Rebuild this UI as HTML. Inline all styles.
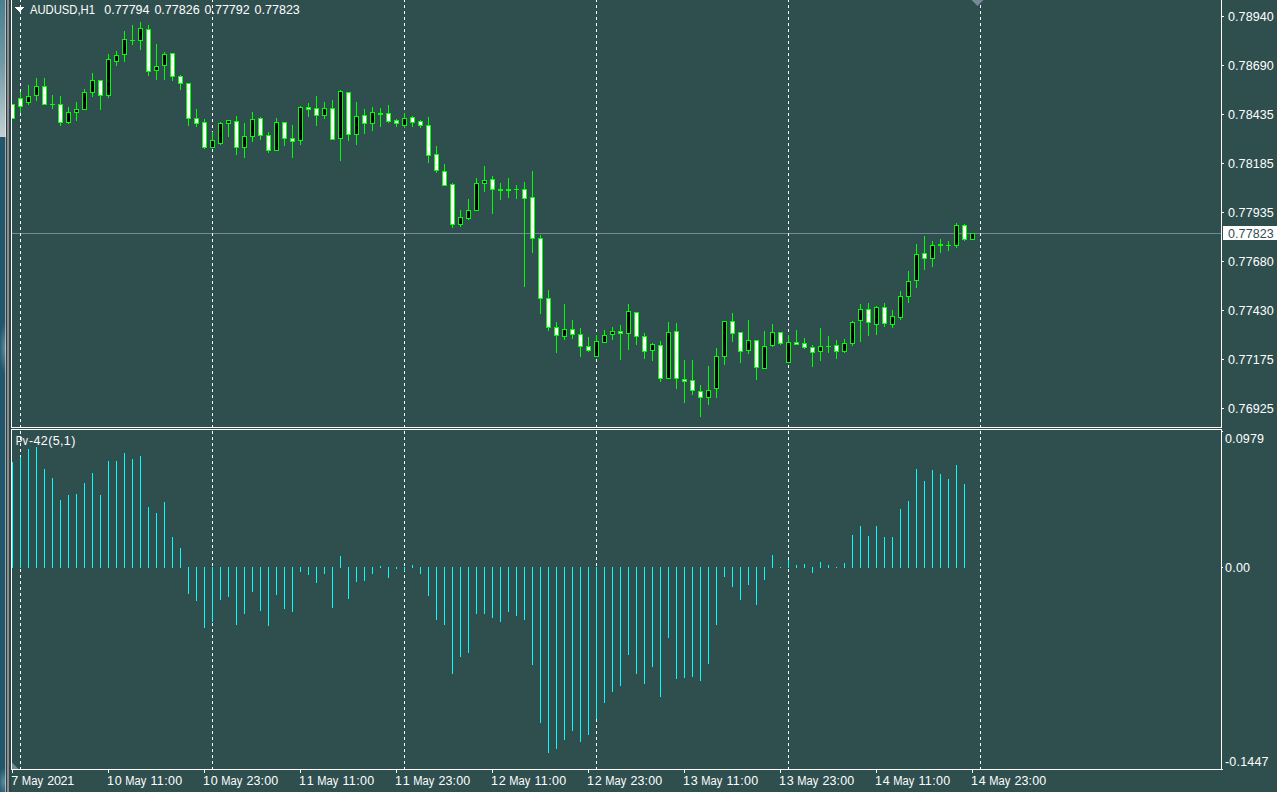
<!DOCTYPE html><html><head><meta charset="utf-8"><title>AUDUSD,H1</title>
<style>html,body{margin:0;padding:0;background:#2f4f4f;overflow:hidden}svg{display:block}text{font-family:"Liberation Sans",sans-serif;font-size:12.5px;fill:#fff}</style></head><body>
<svg width="1277" height="792" viewBox="0 0 1277 792">
<defs><linearGradient id="lg" x1="0" y1="0" x2="0" y2="1"><stop offset="0" stop-color="#4a7f90"/><stop offset="0.45" stop-color="#6f98a4"/><stop offset="1" stop-color="#c3d0d3"/></linearGradient><radialGradient id="glow"><stop offset="0" stop-color="#7fb0c0" stop-opacity="0.6"/><stop offset="1" stop-color="#7fb0c0" stop-opacity="0"/></radialGradient>
<pattern id="dash" x="0" y="-1" width="1" height="6" patternUnits="userSpaceOnUse"><rect x="0" y="0" width="1" height="3" fill="#fff"/></pattern></defs>
<rect width="1277" height="792" fill="#2f4f4f"/>
<g shape-rendering="crispEdges">
<rect x="12" y="233" width="1209" height="1" fill="#778899"/>
<rect x="20" y="0" width="1" height="427" fill="url(#dash)"/>
<rect x="20" y="430" width="1" height="339" fill="url(#dash)"/>
<rect x="212" y="0" width="1" height="427" fill="url(#dash)"/>
<rect x="212" y="430" width="1" height="339" fill="url(#dash)"/>
<rect x="404" y="0" width="1" height="427" fill="url(#dash)"/>
<rect x="404" y="430" width="1" height="339" fill="url(#dash)"/>
<rect x="596" y="0" width="1" height="427" fill="url(#dash)"/>
<rect x="596" y="430" width="1" height="339" fill="url(#dash)"/>
<rect x="788" y="0" width="1" height="427" fill="url(#dash)"/>
<rect x="788" y="430" width="1" height="339" fill="url(#dash)"/>
<rect x="980" y="0" width="1" height="427" fill="url(#dash)"/>
<rect x="980" y="430" width="1" height="339" fill="url(#dash)"/>
<rect x="12" y="104" width="1" height="15" fill="#00ff00"/>
<rect x="10" y="104" width="5" height="15" fill="#00ff00"/>
<rect x="11" y="105" width="3" height="13" fill="#fff"/>
<rect x="20" y="92" width="1" height="21" fill="#00ff00"/>
<rect x="18" y="98" width="5" height="9" fill="#00ff00"/>
<rect x="19" y="99" width="3" height="7" fill="#fff"/>
<rect x="28" y="85" width="1" height="20" fill="#00ff00"/>
<rect x="26" y="96" width="5" height="7" fill="#00ff00"/>
<rect x="27" y="97" width="3" height="5" fill="#000"/>
<rect x="36" y="78" width="1" height="23" fill="#00ff00"/>
<rect x="34" y="86" width="5" height="10" fill="#00ff00"/>
<rect x="35" y="87" width="3" height="8" fill="#000"/>
<rect x="44" y="78" width="1" height="27" fill="#00ff00"/>
<rect x="42" y="86" width="5" height="19" fill="#00ff00"/>
<rect x="43" y="87" width="3" height="17" fill="#fff"/>
<rect x="52" y="95" width="1" height="14" fill="#00ff00"/>
<rect x="50" y="104" width="5" height="1" fill="#00ff00"/>
<rect x="60" y="96" width="1" height="30" fill="#00ff00"/>
<rect x="58" y="104" width="5" height="19" fill="#00ff00"/>
<rect x="59" y="105" width="3" height="17" fill="#fff"/>
<rect x="68" y="107" width="1" height="17" fill="#00ff00"/>
<rect x="66" y="112" width="5" height="11" fill="#00ff00"/>
<rect x="67" y="113" width="3" height="9" fill="#000"/>
<rect x="76" y="102" width="1" height="19" fill="#00ff00"/>
<rect x="74" y="109" width="5" height="4" fill="#00ff00"/>
<rect x="75" y="110" width="3" height="2" fill="#000"/>
<rect x="84" y="89" width="1" height="21" fill="#00ff00"/>
<rect x="82" y="92" width="5" height="18" fill="#00ff00"/>
<rect x="83" y="93" width="3" height="16" fill="#000"/>
<rect x="92" y="73" width="1" height="24" fill="#00ff00"/>
<rect x="90" y="80" width="5" height="13" fill="#00ff00"/>
<rect x="91" y="81" width="3" height="11" fill="#000"/>
<rect x="100" y="80" width="1" height="30" fill="#00ff00"/>
<rect x="98" y="80" width="5" height="16" fill="#00ff00"/>
<rect x="99" y="81" width="3" height="14" fill="#fff"/>
<rect x="108" y="54" width="1" height="44" fill="#00ff00"/>
<rect x="106" y="59" width="5" height="37" fill="#00ff00"/>
<rect x="107" y="60" width="3" height="35" fill="#000"/>
<rect x="116" y="51" width="1" height="15" fill="#00ff00"/>
<rect x="114" y="55" width="5" height="7" fill="#00ff00"/>
<rect x="115" y="56" width="3" height="5" fill="#000"/>
<rect x="124" y="31" width="1" height="31" fill="#00ff00"/>
<rect x="122" y="39" width="5" height="16" fill="#00ff00"/>
<rect x="123" y="40" width="3" height="14" fill="#000"/>
<rect x="132" y="25" width="1" height="20" fill="#00ff00"/>
<rect x="130" y="40" width="5" height="1" fill="#00ff00"/>
<rect x="140" y="22" width="1" height="28" fill="#00ff00"/>
<rect x="138" y="28" width="5" height="13" fill="#00ff00"/>
<rect x="139" y="29" width="3" height="11" fill="#000"/>
<rect x="148" y="25" width="1" height="51" fill="#00ff00"/>
<rect x="146" y="29" width="5" height="43" fill="#00ff00"/>
<rect x="147" y="30" width="3" height="41" fill="#fff"/>
<rect x="156" y="44" width="1" height="36" fill="#00ff00"/>
<rect x="154" y="66" width="5" height="5" fill="#00ff00"/>
<rect x="155" y="67" width="3" height="3" fill="#000"/>
<rect x="164" y="52" width="1" height="28" fill="#00ff00"/>
<rect x="162" y="54" width="5" height="12" fill="#00ff00"/>
<rect x="163" y="55" width="3" height="10" fill="#000"/>
<rect x="172" y="53" width="1" height="28" fill="#00ff00"/>
<rect x="170" y="53" width="5" height="24" fill="#00ff00"/>
<rect x="171" y="54" width="3" height="22" fill="#fff"/>
<rect x="180" y="75" width="1" height="15" fill="#00ff00"/>
<rect x="178" y="76" width="5" height="8" fill="#00ff00"/>
<rect x="179" y="77" width="3" height="6" fill="#fff"/>
<rect x="188" y="83" width="1" height="43" fill="#00ff00"/>
<rect x="186" y="83" width="5" height="36" fill="#00ff00"/>
<rect x="187" y="84" width="3" height="34" fill="#fff"/>
<rect x="196" y="109" width="1" height="18" fill="#00ff00"/>
<rect x="194" y="118" width="5" height="6" fill="#00ff00"/>
<rect x="195" y="119" width="3" height="4" fill="#fff"/>
<rect x="204" y="119" width="1" height="30" fill="#00ff00"/>
<rect x="202" y="122" width="5" height="26" fill="#00ff00"/>
<rect x="203" y="123" width="3" height="24" fill="#fff"/>
<rect x="212" y="132" width="1" height="16" fill="#00ff00"/>
<rect x="210" y="140" width="5" height="8" fill="#00ff00"/>
<rect x="211" y="141" width="3" height="6" fill="#000"/>
<rect x="220" y="122" width="1" height="23" fill="#00ff00"/>
<rect x="218" y="123" width="5" height="21" fill="#00ff00"/>
<rect x="219" y="124" width="3" height="19" fill="#000"/>
<rect x="228" y="120" width="1" height="17" fill="#00ff00"/>
<rect x="226" y="120" width="5" height="4" fill="#00ff00"/>
<rect x="227" y="121" width="3" height="2" fill="#000"/>
<rect x="236" y="116" width="1" height="39" fill="#00ff00"/>
<rect x="234" y="121" width="5" height="27" fill="#00ff00"/>
<rect x="235" y="122" width="3" height="25" fill="#fff"/>
<rect x="244" y="123" width="1" height="35" fill="#00ff00"/>
<rect x="242" y="136" width="5" height="12" fill="#00ff00"/>
<rect x="243" y="137" width="3" height="10" fill="#000"/>
<rect x="252" y="112" width="1" height="30" fill="#00ff00"/>
<rect x="250" y="119" width="5" height="18" fill="#00ff00"/>
<rect x="251" y="120" width="3" height="16" fill="#000"/>
<rect x="260" y="117" width="1" height="23" fill="#00ff00"/>
<rect x="258" y="118" width="5" height="18" fill="#00ff00"/>
<rect x="259" y="119" width="3" height="16" fill="#fff"/>
<rect x="268" y="132" width="1" height="21" fill="#00ff00"/>
<rect x="266" y="135" width="5" height="16" fill="#00ff00"/>
<rect x="267" y="136" width="3" height="14" fill="#fff"/>
<rect x="276" y="118" width="1" height="33" fill="#00ff00"/>
<rect x="274" y="122" width="5" height="29" fill="#00ff00"/>
<rect x="275" y="123" width="3" height="27" fill="#000"/>
<rect x="284" y="122" width="1" height="24" fill="#00ff00"/>
<rect x="282" y="122" width="5" height="17" fill="#00ff00"/>
<rect x="283" y="123" width="3" height="15" fill="#fff"/>
<rect x="292" y="125" width="1" height="33" fill="#00ff00"/>
<rect x="290" y="138" width="5" height="4" fill="#00ff00"/>
<rect x="291" y="139" width="3" height="2" fill="#fff"/>
<rect x="300" y="106" width="1" height="39" fill="#00ff00"/>
<rect x="298" y="107" width="5" height="34" fill="#00ff00"/>
<rect x="299" y="108" width="3" height="32" fill="#000"/>
<rect x="308" y="103" width="1" height="14" fill="#00ff00"/>
<rect x="306" y="107" width="5" height="3" fill="#00ff00"/>
<rect x="307" y="108" width="3" height="1" fill="#fff"/>
<rect x="316" y="96" width="1" height="30" fill="#00ff00"/>
<rect x="314" y="108" width="5" height="8" fill="#00ff00"/>
<rect x="315" y="109" width="3" height="6" fill="#fff"/>
<rect x="324" y="102" width="1" height="17" fill="#00ff00"/>
<rect x="322" y="108" width="5" height="8" fill="#00ff00"/>
<rect x="323" y="109" width="3" height="6" fill="#000"/>
<rect x="332" y="100" width="1" height="40" fill="#00ff00"/>
<rect x="330" y="108" width="5" height="32" fill="#00ff00"/>
<rect x="331" y="109" width="3" height="30" fill="#fff"/>
<rect x="340" y="90" width="1" height="71" fill="#00ff00"/>
<rect x="338" y="91" width="5" height="48" fill="#00ff00"/>
<rect x="339" y="92" width="3" height="46" fill="#000"/>
<rect x="348" y="92" width="1" height="49" fill="#00ff00"/>
<rect x="346" y="92" width="5" height="43" fill="#00ff00"/>
<rect x="347" y="93" width="3" height="41" fill="#fff"/>
<rect x="356" y="102" width="1" height="43" fill="#00ff00"/>
<rect x="354" y="116" width="5" height="19" fill="#00ff00"/>
<rect x="355" y="117" width="3" height="17" fill="#000"/>
<rect x="364" y="109" width="1" height="25" fill="#00ff00"/>
<rect x="362" y="115" width="5" height="9" fill="#00ff00"/>
<rect x="363" y="116" width="3" height="7" fill="#fff"/>
<rect x="372" y="107" width="1" height="24" fill="#00ff00"/>
<rect x="370" y="112" width="5" height="12" fill="#00ff00"/>
<rect x="371" y="113" width="3" height="10" fill="#000"/>
<rect x="380" y="108" width="1" height="19" fill="#00ff00"/>
<rect x="378" y="113" width="5" height="2" fill="#00ff00"/>
<rect x="388" y="105" width="1" height="18" fill="#00ff00"/>
<rect x="386" y="113" width="5" height="9" fill="#00ff00"/>
<rect x="387" y="114" width="3" height="7" fill="#fff"/>
<rect x="396" y="119" width="1" height="8" fill="#00ff00"/>
<rect x="394" y="120" width="5" height="4" fill="#00ff00"/>
<rect x="395" y="121" width="3" height="2" fill="#fff"/>
<rect x="404" y="113" width="1" height="15" fill="#00ff00"/>
<rect x="402" y="118" width="5" height="8" fill="#00ff00"/>
<rect x="403" y="119" width="3" height="6" fill="#000"/>
<rect x="412" y="116" width="1" height="11" fill="#00ff00"/>
<rect x="410" y="117" width="5" height="6" fill="#00ff00"/>
<rect x="411" y="118" width="3" height="4" fill="#fff"/>
<rect x="420" y="120" width="1" height="8" fill="#00ff00"/>
<rect x="418" y="121" width="5" height="5" fill="#00ff00"/>
<rect x="419" y="122" width="3" height="3" fill="#fff"/>
<rect x="428" y="117" width="1" height="46" fill="#00ff00"/>
<rect x="426" y="125" width="5" height="31" fill="#00ff00"/>
<rect x="427" y="126" width="3" height="29" fill="#fff"/>
<rect x="436" y="146" width="1" height="27" fill="#00ff00"/>
<rect x="434" y="154" width="5" height="17" fill="#00ff00"/>
<rect x="435" y="155" width="3" height="15" fill="#fff"/>
<rect x="444" y="164" width="1" height="22" fill="#00ff00"/>
<rect x="442" y="171" width="5" height="15" fill="#00ff00"/>
<rect x="443" y="172" width="3" height="13" fill="#fff"/>
<rect x="452" y="183" width="1" height="45" fill="#00ff00"/>
<rect x="450" y="184" width="5" height="41" fill="#00ff00"/>
<rect x="451" y="185" width="3" height="39" fill="#fff"/>
<rect x="460" y="210" width="1" height="17" fill="#00ff00"/>
<rect x="458" y="217" width="5" height="8" fill="#00ff00"/>
<rect x="459" y="218" width="3" height="6" fill="#000"/>
<rect x="468" y="199" width="1" height="21" fill="#00ff00"/>
<rect x="466" y="210" width="5" height="9" fill="#00ff00"/>
<rect x="467" y="211" width="3" height="7" fill="#000"/>
<rect x="476" y="178" width="1" height="33" fill="#00ff00"/>
<rect x="474" y="183" width="5" height="28" fill="#00ff00"/>
<rect x="475" y="184" width="3" height="26" fill="#000"/>
<rect x="484" y="166" width="1" height="26" fill="#00ff00"/>
<rect x="482" y="180" width="5" height="4" fill="#00ff00"/>
<rect x="483" y="181" width="3" height="2" fill="#000"/>
<rect x="492" y="176" width="1" height="38" fill="#00ff00"/>
<rect x="490" y="179" width="5" height="11" fill="#00ff00"/>
<rect x="491" y="180" width="3" height="9" fill="#fff"/>
<rect x="500" y="183" width="1" height="17" fill="#00ff00"/>
<rect x="498" y="189" width="5" height="2" fill="#00ff00"/>
<rect x="508" y="178" width="1" height="20" fill="#00ff00"/>
<rect x="506" y="189" width="5" height="2" fill="#00ff00"/>
<rect x="516" y="185" width="1" height="14" fill="#00ff00"/>
<rect x="514" y="189" width="5" height="1" fill="#00ff00"/>
<rect x="524" y="182" width="1" height="105" fill="#00ff00"/>
<rect x="522" y="189" width="5" height="10" fill="#00ff00"/>
<rect x="523" y="190" width="3" height="8" fill="#fff"/>
<rect x="532" y="171" width="1" height="82" fill="#00ff00"/>
<rect x="530" y="197" width="5" height="42" fill="#00ff00"/>
<rect x="531" y="198" width="3" height="40" fill="#fff"/>
<rect x="540" y="235" width="1" height="79" fill="#00ff00"/>
<rect x="538" y="238" width="5" height="61" fill="#00ff00"/>
<rect x="539" y="239" width="3" height="59" fill="#fff"/>
<rect x="548" y="290" width="1" height="41" fill="#00ff00"/>
<rect x="546" y="298" width="5" height="30" fill="#00ff00"/>
<rect x="547" y="299" width="3" height="28" fill="#fff"/>
<rect x="556" y="322" width="1" height="31" fill="#00ff00"/>
<rect x="554" y="327" width="5" height="9" fill="#00ff00"/>
<rect x="555" y="328" width="3" height="7" fill="#fff"/>
<rect x="564" y="304" width="1" height="36" fill="#00ff00"/>
<rect x="562" y="329" width="5" height="8" fill="#00ff00"/>
<rect x="563" y="330" width="3" height="6" fill="#000"/>
<rect x="572" y="320" width="1" height="19" fill="#00ff00"/>
<rect x="570" y="329" width="5" height="6" fill="#00ff00"/>
<rect x="571" y="330" width="3" height="4" fill="#fff"/>
<rect x="580" y="328" width="1" height="29" fill="#00ff00"/>
<rect x="578" y="334" width="5" height="13" fill="#00ff00"/>
<rect x="579" y="335" width="3" height="11" fill="#fff"/>
<rect x="588" y="337" width="1" height="15" fill="#00ff00"/>
<rect x="586" y="346" width="5" height="5" fill="#00ff00"/>
<rect x="587" y="347" width="3" height="3" fill="#fff"/>
<rect x="596" y="335" width="1" height="22" fill="#00ff00"/>
<rect x="594" y="341" width="5" height="16" fill="#00ff00"/>
<rect x="595" y="342" width="3" height="14" fill="#000"/>
<rect x="604" y="330" width="1" height="13" fill="#00ff00"/>
<rect x="602" y="335" width="5" height="8" fill="#00ff00"/>
<rect x="603" y="336" width="3" height="6" fill="#000"/>
<rect x="612" y="327" width="1" height="13" fill="#00ff00"/>
<rect x="610" y="331" width="5" height="4" fill="#00ff00"/>
<rect x="611" y="332" width="3" height="2" fill="#000"/>
<rect x="620" y="325" width="1" height="35" fill="#00ff00"/>
<rect x="618" y="331" width="5" height="3" fill="#00ff00"/>
<rect x="619" y="332" width="3" height="1" fill="#fff"/>
<rect x="628" y="304" width="1" height="46" fill="#00ff00"/>
<rect x="626" y="311" width="5" height="23" fill="#00ff00"/>
<rect x="627" y="312" width="3" height="21" fill="#000"/>
<rect x="636" y="312" width="1" height="33" fill="#00ff00"/>
<rect x="634" y="312" width="5" height="25" fill="#00ff00"/>
<rect x="635" y="313" width="3" height="23" fill="#fff"/>
<rect x="644" y="333" width="1" height="26" fill="#00ff00"/>
<rect x="642" y="336" width="5" height="16" fill="#00ff00"/>
<rect x="643" y="337" width="3" height="14" fill="#fff"/>
<rect x="652" y="343" width="1" height="18" fill="#00ff00"/>
<rect x="650" y="344" width="5" height="7" fill="#00ff00"/>
<rect x="651" y="345" width="3" height="5" fill="#000"/>
<rect x="660" y="341" width="1" height="41" fill="#00ff00"/>
<rect x="658" y="345" width="5" height="34" fill="#00ff00"/>
<rect x="659" y="346" width="3" height="32" fill="#fff"/>
<rect x="668" y="322" width="1" height="57" fill="#00ff00"/>
<rect x="666" y="332" width="5" height="47" fill="#00ff00"/>
<rect x="667" y="333" width="3" height="45" fill="#000"/>
<rect x="676" y="323" width="1" height="66" fill="#00ff00"/>
<rect x="674" y="331" width="5" height="48" fill="#00ff00"/>
<rect x="675" y="332" width="3" height="46" fill="#fff"/>
<rect x="684" y="360" width="1" height="43" fill="#00ff00"/>
<rect x="682" y="379" width="5" height="3" fill="#00ff00"/>
<rect x="683" y="380" width="3" height="1" fill="#fff"/>
<rect x="692" y="360" width="1" height="35" fill="#00ff00"/>
<rect x="690" y="380" width="5" height="11" fill="#00ff00"/>
<rect x="691" y="381" width="3" height="9" fill="#fff"/>
<rect x="700" y="385" width="1" height="32" fill="#00ff00"/>
<rect x="698" y="391" width="5" height="7" fill="#00ff00"/>
<rect x="699" y="392" width="3" height="5" fill="#fff"/>
<rect x="708" y="366" width="1" height="39" fill="#00ff00"/>
<rect x="706" y="390" width="5" height="8" fill="#00ff00"/>
<rect x="707" y="391" width="3" height="6" fill="#000"/>
<rect x="716" y="348" width="1" height="50" fill="#00ff00"/>
<rect x="714" y="356" width="5" height="33" fill="#00ff00"/>
<rect x="715" y="357" width="3" height="31" fill="#000"/>
<rect x="724" y="321" width="1" height="44" fill="#00ff00"/>
<rect x="722" y="321" width="5" height="36" fill="#00ff00"/>
<rect x="723" y="322" width="3" height="34" fill="#000"/>
<rect x="732" y="313" width="1" height="29" fill="#00ff00"/>
<rect x="730" y="321" width="5" height="13" fill="#00ff00"/>
<rect x="731" y="322" width="3" height="11" fill="#fff"/>
<rect x="740" y="332" width="1" height="31" fill="#00ff00"/>
<rect x="738" y="332" width="5" height="20" fill="#00ff00"/>
<rect x="739" y="333" width="3" height="18" fill="#fff"/>
<rect x="748" y="320" width="1" height="34" fill="#00ff00"/>
<rect x="746" y="340" width="5" height="11" fill="#00ff00"/>
<rect x="747" y="341" width="3" height="9" fill="#000"/>
<rect x="756" y="340" width="1" height="40" fill="#00ff00"/>
<rect x="754" y="340" width="5" height="28" fill="#00ff00"/>
<rect x="755" y="341" width="3" height="26" fill="#fff"/>
<rect x="764" y="331" width="1" height="38" fill="#00ff00"/>
<rect x="762" y="346" width="5" height="23" fill="#00ff00"/>
<rect x="763" y="347" width="3" height="21" fill="#000"/>
<rect x="772" y="324" width="1" height="23" fill="#00ff00"/>
<rect x="770" y="332" width="5" height="14" fill="#00ff00"/>
<rect x="771" y="333" width="3" height="12" fill="#000"/>
<rect x="780" y="332" width="1" height="13" fill="#00ff00"/>
<rect x="778" y="332" width="5" height="12" fill="#00ff00"/>
<rect x="779" y="333" width="3" height="10" fill="#fff"/>
<rect x="788" y="335" width="1" height="28" fill="#00ff00"/>
<rect x="786" y="342" width="5" height="21" fill="#00ff00"/>
<rect x="787" y="343" width="3" height="19" fill="#000"/>
<rect x="796" y="330" width="1" height="15" fill="#00ff00"/>
<rect x="794" y="342" width="5" height="3" fill="#00ff00"/>
<rect x="795" y="343" width="3" height="1" fill="#fff"/>
<rect x="804" y="338" width="1" height="11" fill="#00ff00"/>
<rect x="802" y="343" width="5" height="5" fill="#00ff00"/>
<rect x="803" y="344" width="3" height="3" fill="#fff"/>
<rect x="812" y="345" width="1" height="22" fill="#00ff00"/>
<rect x="810" y="347" width="5" height="6" fill="#00ff00"/>
<rect x="811" y="348" width="3" height="4" fill="#fff"/>
<rect x="820" y="328" width="1" height="33" fill="#00ff00"/>
<rect x="818" y="346" width="5" height="6" fill="#00ff00"/>
<rect x="819" y="347" width="3" height="4" fill="#000"/>
<rect x="828" y="336" width="1" height="17" fill="#00ff00"/>
<rect x="826" y="346" width="5" height="1" fill="#00ff00"/>
<rect x="836" y="340" width="1" height="19" fill="#00ff00"/>
<rect x="834" y="345" width="5" height="7" fill="#00ff00"/>
<rect x="835" y="346" width="3" height="5" fill="#fff"/>
<rect x="844" y="339" width="1" height="14" fill="#00ff00"/>
<rect x="842" y="343" width="5" height="9" fill="#00ff00"/>
<rect x="843" y="344" width="3" height="7" fill="#000"/>
<rect x="852" y="321" width="1" height="25" fill="#00ff00"/>
<rect x="850" y="322" width="5" height="22" fill="#00ff00"/>
<rect x="851" y="323" width="3" height="20" fill="#000"/>
<rect x="860" y="304" width="1" height="38" fill="#00ff00"/>
<rect x="858" y="309" width="5" height="12" fill="#00ff00"/>
<rect x="859" y="310" width="3" height="10" fill="#000"/>
<rect x="868" y="303" width="1" height="33" fill="#00ff00"/>
<rect x="866" y="309" width="5" height="14" fill="#00ff00"/>
<rect x="867" y="310" width="3" height="12" fill="#fff"/>
<rect x="876" y="306" width="1" height="29" fill="#00ff00"/>
<rect x="874" y="307" width="5" height="18" fill="#00ff00"/>
<rect x="875" y="308" width="3" height="16" fill="#000"/>
<rect x="884" y="303" width="1" height="24" fill="#00ff00"/>
<rect x="882" y="307" width="5" height="17" fill="#00ff00"/>
<rect x="883" y="308" width="3" height="15" fill="#fff"/>
<rect x="892" y="310" width="1" height="18" fill="#00ff00"/>
<rect x="890" y="316" width="5" height="9" fill="#00ff00"/>
<rect x="891" y="317" width="3" height="7" fill="#000"/>
<rect x="900" y="291" width="1" height="29" fill="#00ff00"/>
<rect x="898" y="296" width="5" height="22" fill="#00ff00"/>
<rect x="899" y="297" width="3" height="20" fill="#000"/>
<rect x="908" y="271" width="1" height="32" fill="#00ff00"/>
<rect x="906" y="281" width="5" height="16" fill="#00ff00"/>
<rect x="907" y="282" width="3" height="14" fill="#000"/>
<rect x="916" y="244" width="1" height="44" fill="#00ff00"/>
<rect x="914" y="254" width="5" height="27" fill="#00ff00"/>
<rect x="915" y="255" width="3" height="25" fill="#000"/>
<rect x="924" y="236" width="1" height="34" fill="#00ff00"/>
<rect x="922" y="253" width="5" height="6" fill="#00ff00"/>
<rect x="923" y="254" width="3" height="4" fill="#fff"/>
<rect x="932" y="241" width="1" height="26" fill="#00ff00"/>
<rect x="930" y="245" width="5" height="14" fill="#00ff00"/>
<rect x="931" y="246" width="3" height="12" fill="#000"/>
<rect x="940" y="239" width="1" height="14" fill="#00ff00"/>
<rect x="938" y="244" width="5" height="2" fill="#00ff00"/>
<rect x="948" y="241" width="1" height="10" fill="#00ff00"/>
<rect x="946" y="245" width="5" height="1" fill="#00ff00"/>
<rect x="956" y="223" width="1" height="25" fill="#00ff00"/>
<rect x="954" y="225" width="5" height="21" fill="#00ff00"/>
<rect x="955" y="226" width="3" height="19" fill="#000"/>
<rect x="964" y="224" width="1" height="17" fill="#00ff00"/>
<rect x="962" y="225" width="5" height="15" fill="#00ff00"/>
<rect x="963" y="226" width="3" height="13" fill="#fff"/>
<rect x="972" y="233" width="1" height="7" fill="#00ff00"/>
<rect x="970" y="233" width="5" height="7" fill="#00ff00"/>
<rect x="971" y="234" width="3" height="5" fill="#000"/>
<rect x="12" y="462" width="1" height="106" fill="#00ffff"/>
<rect x="20" y="457" width="1" height="111" fill="#00ffff"/>
<rect x="28" y="449" width="1" height="119" fill="#00ffff"/>
<rect x="36" y="447" width="1" height="121" fill="#00ffff"/>
<rect x="44" y="469" width="1" height="99" fill="#00ffff"/>
<rect x="52" y="478" width="1" height="90" fill="#00ffff"/>
<rect x="60" y="500" width="1" height="68" fill="#00ffff"/>
<rect x="68" y="495" width="1" height="73" fill="#00ffff"/>
<rect x="76" y="494" width="1" height="74" fill="#00ffff"/>
<rect x="84" y="483" width="1" height="85" fill="#00ffff"/>
<rect x="92" y="473" width="1" height="95" fill="#00ffff"/>
<rect x="100" y="495" width="1" height="73" fill="#00ffff"/>
<rect x="108" y="461" width="1" height="107" fill="#00ffff"/>
<rect x="116" y="461" width="1" height="107" fill="#00ffff"/>
<rect x="124" y="453" width="1" height="115" fill="#00ffff"/>
<rect x="132" y="459" width="1" height="109" fill="#00ffff"/>
<rect x="140" y="456" width="1" height="112" fill="#00ffff"/>
<rect x="148" y="507" width="1" height="61" fill="#00ffff"/>
<rect x="156" y="513" width="1" height="55" fill="#00ffff"/>
<rect x="164" y="502" width="1" height="66" fill="#00ffff"/>
<rect x="172" y="537" width="1" height="31" fill="#00ffff"/>
<rect x="180" y="548" width="1" height="20" fill="#00ffff"/>
<rect x="188" y="567" width="1" height="27" fill="#00ffff"/>
<rect x="196" y="567" width="1" height="34" fill="#00ffff"/>
<rect x="204" y="567" width="1" height="61" fill="#00ffff"/>
<rect x="212" y="567" width="1" height="55" fill="#00ffff"/>
<rect x="220" y="567" width="1" height="33" fill="#00ffff"/>
<rect x="228" y="567" width="1" height="30" fill="#00ffff"/>
<rect x="236" y="567" width="1" height="58" fill="#00ffff"/>
<rect x="244" y="567" width="1" height="47" fill="#00ffff"/>
<rect x="252" y="567" width="1" height="25" fill="#00ffff"/>
<rect x="260" y="567" width="1" height="44" fill="#00ffff"/>
<rect x="268" y="567" width="1" height="59" fill="#00ffff"/>
<rect x="276" y="567" width="1" height="28" fill="#00ffff"/>
<rect x="284" y="567" width="1" height="42" fill="#00ffff"/>
<rect x="292" y="567" width="1" height="45" fill="#00ffff"/>
<rect x="300" y="567" width="1" height="5" fill="#00ffff"/>
<rect x="308" y="567" width="1" height="8" fill="#00ffff"/>
<rect x="316" y="567" width="1" height="16" fill="#00ffff"/>
<rect x="324" y="567" width="1" height="7" fill="#00ffff"/>
<rect x="332" y="567" width="1" height="41" fill="#00ffff"/>
<rect x="340" y="556" width="1" height="12" fill="#00ffff"/>
<rect x="348" y="567" width="1" height="32" fill="#00ffff"/>
<rect x="356" y="567" width="1" height="15" fill="#00ffff"/>
<rect x="364" y="567" width="1" height="14" fill="#00ffff"/>
<rect x="372" y="567" width="1" height="7" fill="#00ffff"/>
<rect x="380" y="566" width="1" height="2" fill="#00ffff"/>
<rect x="388" y="567" width="1" height="11" fill="#00ffff"/>
<rect x="396" y="567" width="1" height="2" fill="#00ffff"/>
<rect x="404" y="567" width="1" height="4" fill="#00ffff"/>
<rect x="412" y="565" width="1" height="3" fill="#00ffff"/>
<rect x="420" y="567" width="1" height="7" fill="#00ffff"/>
<rect x="428" y="567" width="1" height="29" fill="#00ffff"/>
<rect x="436" y="567" width="1" height="53" fill="#00ffff"/>
<rect x="444" y="567" width="1" height="58" fill="#00ffff"/>
<rect x="452" y="567" width="1" height="107" fill="#00ffff"/>
<rect x="460" y="567" width="1" height="90" fill="#00ffff"/>
<rect x="468" y="567" width="1" height="86" fill="#00ffff"/>
<rect x="476" y="567" width="1" height="47" fill="#00ffff"/>
<rect x="484" y="567" width="1" height="47" fill="#00ffff"/>
<rect x="492" y="567" width="1" height="51" fill="#00ffff"/>
<rect x="500" y="567" width="1" height="55" fill="#00ffff"/>
<rect x="508" y="567" width="1" height="45" fill="#00ffff"/>
<rect x="516" y="567" width="1" height="49" fill="#00ffff"/>
<rect x="524" y="567" width="1" height="53" fill="#00ffff"/>
<rect x="532" y="567" width="1" height="98" fill="#00ffff"/>
<rect x="540" y="567" width="1" height="156" fill="#00ffff"/>
<rect x="548" y="567" width="1" height="186" fill="#00ffff"/>
<rect x="556" y="567" width="1" height="182" fill="#00ffff"/>
<rect x="564" y="567" width="1" height="173" fill="#00ffff"/>
<rect x="572" y="567" width="1" height="164" fill="#00ffff"/>
<rect x="580" y="567" width="1" height="175" fill="#00ffff"/>
<rect x="588" y="567" width="1" height="168" fill="#00ffff"/>
<rect x="596" y="567" width="1" height="152" fill="#00ffff"/>
<rect x="604" y="567" width="1" height="136" fill="#00ffff"/>
<rect x="612" y="567" width="1" height="125" fill="#00ffff"/>
<rect x="620" y="567" width="1" height="119" fill="#00ffff"/>
<rect x="628" y="567" width="1" height="88" fill="#00ffff"/>
<rect x="636" y="567" width="1" height="107" fill="#00ffff"/>
<rect x="644" y="567" width="1" height="117" fill="#00ffff"/>
<rect x="652" y="567" width="1" height="100" fill="#00ffff"/>
<rect x="660" y="567" width="1" height="130" fill="#00ffff"/>
<rect x="668" y="567" width="1" height="71" fill="#00ffff"/>
<rect x="676" y="567" width="1" height="112" fill="#00ffff"/>
<rect x="684" y="567" width="1" height="111" fill="#00ffff"/>
<rect x="692" y="567" width="1" height="110" fill="#00ffff"/>
<rect x="700" y="567" width="1" height="114" fill="#00ffff"/>
<rect x="708" y="567" width="1" height="97" fill="#00ffff"/>
<rect x="716" y="567" width="1" height="58" fill="#00ffff"/>
<rect x="724" y="567" width="1" height="10" fill="#00ffff"/>
<rect x="732" y="567" width="1" height="20" fill="#00ffff"/>
<rect x="740" y="567" width="1" height="33" fill="#00ffff"/>
<rect x="748" y="567" width="1" height="18" fill="#00ffff"/>
<rect x="756" y="567" width="1" height="38" fill="#00ffff"/>
<rect x="764" y="567" width="1" height="13" fill="#00ffff"/>
<rect x="772" y="555" width="1" height="13" fill="#00ffff"/>
<rect x="780" y="567" width="1" height="1" fill="#00ffff"/>
<rect x="788" y="560" width="1" height="8" fill="#00ffff"/>
<rect x="796" y="565" width="1" height="3" fill="#00ffff"/>
<rect x="804" y="564" width="1" height="4" fill="#00ffff"/>
<rect x="812" y="567" width="1" height="6" fill="#00ffff"/>
<rect x="820" y="562" width="1" height="6" fill="#00ffff"/>
<rect x="828" y="565" width="1" height="3" fill="#00ffff"/>
<rect x="836" y="567" width="1" height="1" fill="#00ffff"/>
<rect x="844" y="563" width="1" height="5" fill="#00ffff"/>
<rect x="852" y="535" width="1" height="33" fill="#00ffff"/>
<rect x="860" y="526" width="1" height="42" fill="#00ffff"/>
<rect x="868" y="536" width="1" height="32" fill="#00ffff"/>
<rect x="876" y="526" width="1" height="42" fill="#00ffff"/>
<rect x="884" y="537" width="1" height="31" fill="#00ffff"/>
<rect x="892" y="537" width="1" height="31" fill="#00ffff"/>
<rect x="900" y="509" width="1" height="59" fill="#00ffff"/>
<rect x="908" y="501" width="1" height="67" fill="#00ffff"/>
<rect x="916" y="469" width="1" height="99" fill="#00ffff"/>
<rect x="924" y="481" width="1" height="87" fill="#00ffff"/>
<rect x="932" y="470" width="1" height="98" fill="#00ffff"/>
<rect x="940" y="474" width="1" height="94" fill="#00ffff"/>
<rect x="948" y="479" width="1" height="89" fill="#00ffff"/>
<rect x="956" y="465" width="1" height="103" fill="#00ffff"/>
<rect x="964" y="484" width="1" height="84" fill="#00ffff"/>
<rect x="0" y="0" width="12" height="792" fill="#2f4f4f"/>
<rect x="0" y="0" width="6" height="137" fill="url(#lg)"/>
<rect x="0" y="137" width="6" height="655" fill="#23566b"/>
<ellipse cx="5" cy="348" rx="6" ry="26" fill="url(#glow)"/>
<ellipse cx="4" cy="782" rx="6" ry="14" fill="url(#glow)"/>
<rect x="5" y="0" width="1" height="792" fill="#fff" fill-opacity="0.5"/>
<rect x="6" y="0" width="1" height="792" fill="#2b3f41"/>
<rect x="7" y="0" width="2" height="792" fill="#908a8a"/>
<rect x="9" y="0" width="2" height="792" fill="#2a4545"/>
<rect x="11" y="0" width="1" height="428" fill="#fff"/>
<rect x="11" y="427" width="1211" height="1" fill="#fff"/>
<rect x="1221" y="0" width="1" height="428" fill="#fff"/>
<rect x="11" y="429" width="1211" height="1" fill="#fff"/>
<rect x="11" y="429" width="1" height="341" fill="#fff"/>
<rect x="1221" y="429" width="1" height="341" fill="#fff"/>
<rect x="11" y="769" width="1212" height="1" fill="#fff"/>
<rect x="1222" y="16" width="2" height="1" fill="#fff"/>
<rect x="1222" y="65" width="2" height="1" fill="#fff"/>
<rect x="1222" y="114" width="2" height="1" fill="#fff"/>
<rect x="1222" y="163" width="2" height="1" fill="#fff"/>
<rect x="1222" y="212" width="2" height="1" fill="#fff"/>
<rect x="1222" y="261" width="2" height="1" fill="#fff"/>
<rect x="1222" y="310" width="2" height="1" fill="#fff"/>
<rect x="1222" y="359" width="2" height="1" fill="#fff"/>
<rect x="1222" y="408" width="2" height="1" fill="#fff"/>
<rect x="1222" y="431" width="1" height="1" fill="#fff"/>
<rect x="1222" y="567" width="1" height="1" fill="#fff"/>
<rect x="12" y="770" width="1" height="3" fill="#fff"/>
<rect x="108" y="770" width="1" height="3" fill="#fff"/>
<rect x="204" y="770" width="1" height="3" fill="#fff"/>
<rect x="300" y="770" width="1" height="3" fill="#fff"/>
<rect x="396" y="770" width="1" height="3" fill="#fff"/>
<rect x="492" y="770" width="1" height="3" fill="#fff"/>
<rect x="588" y="770" width="1" height="3" fill="#fff"/>
<rect x="684" y="770" width="1" height="3" fill="#fff"/>
<rect x="780" y="770" width="1" height="3" fill="#fff"/>
<rect x="876" y="770" width="1" height="3" fill="#fff"/>
<rect x="972" y="770" width="1" height="3" fill="#fff"/>
<rect x="1223" y="226" width="54" height="14" fill="#fff"/>
</g>
<polygon points="971.5,0 983.5,0 977.5,6" fill="#778899"/>
<polygon points="12,762.5 12,769 18.5,769" fill="#778899"/>
<rect x="15" y="7" width="9" height="1" fill="#fff" shape-rendering="crispEdges"/>
<rect x="16" y="8" width="7" height="1" fill="#fff" shape-rendering="crispEdges"/>
<rect x="17" y="9" width="5" height="1" fill="#fff" shape-rendering="crispEdges"/>
<rect x="18" y="10" width="3" height="1" fill="#fff" shape-rendering="crispEdges"/>
<rect x="19" y="11" width="1" height="1" fill="#fff" shape-rendering="crispEdges"/>
<text x="30.0" y="14.0" textLength="65.0" lengthAdjust="spacingAndGlyphs">AUDUSD,H1</text>
<text x="104.3" y="14.0" textLength="45.2" lengthAdjust="spacing">0.77794</text>
<text x="154.4" y="14.0" textLength="45.2" lengthAdjust="spacing">0.77826</text>
<text x="204.5" y="14.0" textLength="45.2" lengthAdjust="spacing">0.77792</text>
<text x="254.6" y="14.0" textLength="45.2" lengthAdjust="spacing">0.77823</text>
<text x="1228.0" y="21.0" textLength="45.7" lengthAdjust="spacing">0.78940</text>
<text x="1228.0" y="70.0" textLength="45.7" lengthAdjust="spacing">0.78690</text>
<text x="1228.0" y="119.0" textLength="45.7" lengthAdjust="spacing">0.78435</text>
<text x="1228.0" y="168.0" textLength="45.7" lengthAdjust="spacing">0.78185</text>
<text x="1228.0" y="217.0" textLength="45.7" lengthAdjust="spacing">0.77935</text>
<text x="1228.0" y="266.0" textLength="45.7" lengthAdjust="spacing">0.77680</text>
<text x="1228.0" y="315.0" textLength="45.7" lengthAdjust="spacing">0.77430</text>
<text x="1228.0" y="364.0" textLength="45.7" lengthAdjust="spacing">0.77175</text>
<text x="1228.0" y="413.0" textLength="45.7" lengthAdjust="spacing">0.76925</text>
<text x="1228.0" y="238.0" textLength="45.7" lengthAdjust="spacing" style="fill:#2f4f4f">0.77823</text>
<text x="1225.0" y="443.0" textLength="39.0" lengthAdjust="spacing">0.0979</text>
<text x="1225.0" y="572.0" textLength="25.0" lengthAdjust="spacing">0.00</text>
<text x="1225.0" y="766.0" textLength="43.5" lengthAdjust="spacing">-0.1447</text>
<text x="15.8" y="445.0" textLength="12.1" lengthAdjust="spacingAndGlyphs">Pv</text>
<text x="29.0" y="445.0" textLength="46.3" lengthAdjust="spacing">-42(5,1)</text>
<text x="11.3" y="785.0">7</text>
<text x="21.8" y="785.0" textLength="21.3" lengthAdjust="spacingAndGlyphs">May</text>
<text x="47.2" y="785.0" textLength="27.0" lengthAdjust="spacing">2021</text>
<text x="106.9" y="785.0" textLength="14.7" lengthAdjust="spacing">10</text>
<text x="125.3" y="785.0" textLength="21.0" lengthAdjust="spacingAndGlyphs">May</text>
<text x="150.5" y="785.0" textLength="31.7" lengthAdjust="spacing">11:00</text>
<text x="202.9" y="785.0" textLength="14.7" lengthAdjust="spacing">10</text>
<text x="221.3" y="785.0" textLength="21.0" lengthAdjust="spacingAndGlyphs">May</text>
<text x="246.5" y="785.0" textLength="31.7" lengthAdjust="spacing">23:00</text>
<text x="298.9" y="785.0" textLength="14.7" lengthAdjust="spacing">11</text>
<text x="317.3" y="785.0" textLength="21.0" lengthAdjust="spacingAndGlyphs">May</text>
<text x="342.5" y="785.0" textLength="31.7" lengthAdjust="spacing">11:00</text>
<text x="394.9" y="785.0" textLength="14.7" lengthAdjust="spacing">11</text>
<text x="413.3" y="785.0" textLength="21.0" lengthAdjust="spacingAndGlyphs">May</text>
<text x="438.5" y="785.0" textLength="31.7" lengthAdjust="spacing">23:00</text>
<text x="490.9" y="785.0" textLength="14.7" lengthAdjust="spacing">12</text>
<text x="509.3" y="785.0" textLength="21.0" lengthAdjust="spacingAndGlyphs">May</text>
<text x="534.5" y="785.0" textLength="31.7" lengthAdjust="spacing">11:00</text>
<text x="586.9" y="785.0" textLength="14.7" lengthAdjust="spacing">12</text>
<text x="605.3" y="785.0" textLength="21.0" lengthAdjust="spacingAndGlyphs">May</text>
<text x="630.5" y="785.0" textLength="31.7" lengthAdjust="spacing">23:00</text>
<text x="682.9" y="785.0" textLength="14.7" lengthAdjust="spacing">13</text>
<text x="701.3" y="785.0" textLength="21.0" lengthAdjust="spacingAndGlyphs">May</text>
<text x="726.5" y="785.0" textLength="31.7" lengthAdjust="spacing">11:00</text>
<text x="778.9" y="785.0" textLength="14.7" lengthAdjust="spacing">13</text>
<text x="797.3" y="785.0" textLength="21.0" lengthAdjust="spacingAndGlyphs">May</text>
<text x="822.5" y="785.0" textLength="31.7" lengthAdjust="spacing">23:00</text>
<text x="874.9" y="785.0" textLength="14.7" lengthAdjust="spacing">14</text>
<text x="893.3" y="785.0" textLength="21.0" lengthAdjust="spacingAndGlyphs">May</text>
<text x="918.5" y="785.0" textLength="31.7" lengthAdjust="spacing">11:00</text>
<text x="970.9" y="785.0" textLength="14.7" lengthAdjust="spacing">14</text>
<text x="989.3" y="785.0" textLength="21.0" lengthAdjust="spacingAndGlyphs">May</text>
<text x="1014.5" y="785.0" textLength="31.7" lengthAdjust="spacing">23:00</text>
</svg></body></html>
